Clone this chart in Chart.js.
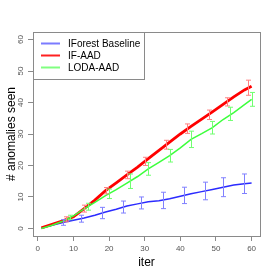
<!DOCTYPE html>
<html>
<head>
<meta charset="utf-8">
<script src="https://cdn.jsdelivr.net/npm/chart.js@4/dist/chart.umd.min.js"></script>
<style>
  html, body { margin: 0; padding: 0; background: #ffffff; }
  #wrap { width: 277px; height: 277px; }
</style>
</head>
<body>
<div id="wrap"><canvas id="c" width="277" height="277"></canvas></div>
<script>
// ---- data ----
const seriesLabels = ['IForest Baseline', 'IF-AAD', 'LODA-AAD'];
const iters = [1,4,7,10,13,16,19,22,25,28,31,34,37,40,43,46,49,52,55,58,60];
const baselineVals = [0.1,1.0,1.9,2.6,3.3,4.2,5.2,6.1,7.1,7.8,8.5,8.8,9.4,10.2,11.0,11.7,12.4,13.1,13.8,14.2,14.4];
const ifAadVals    = [0.2,1.3,2.4,3.7,6.3,9.0,12.0,14.5,17.0,19.5,22.2,24.8,27.4,30.0,32.4,34.7,37.0,39.4,41.8,44.0,45.2];
const lodaAadVals  = [0.0,1.0,2.3,4.0,6.2,8.3,10.4,12.3,14.4,16.5,18.9,21.0,23.1,25.6,28.3,30.1,32.0,34.6,36.8,39.3,41.0];

const baselineErrIter = [7,12,18,24,29,35,41,47,52,58];
const baselineErrMean = [1.9,3.1,4.9,6.8,8.1,8.9,10.5,11.9,13.1,14.2];
const baselineErrSd   = [0.9,1.1,1.8,1.9,1.9,2.6,2.6,2.8,3.0,3.1];

const ifAadErrIter = [8,13,19,25,30,36,42,48,53,59];
const ifAadErrMean = [2.9,6.3,12.0,17.0,21.3,26.6,31.7,36.1,40.2,44.7];
const ifAadErrSd   = [0.8,1.1,1.0,1.2,1.3,1.4,1.5,1.5,1.3,2.4];

const lodaErrIter = [9,14,20,26,31,37,43,49,54,60];
const lodaErrMean = [3.5,6.9,11.0,15.0,18.9,23.1,28.3,32.0,36.4,41.0];
const lodaErrSd   = [0.7,1.1,1.5,2.3,2.0,2.0,2.6,2.0,2.1,2.2];

const xTickVals = [0,10,20,30,40,50,60];
const yTickVals = [0,10,20,30,40,50,60];

// ---- styles ----
const lineColors = ['#2b2bff', '#ff0000', '#3cff3c'];
const barColors  = ['#8080ff', '#ff8080', '#70ff70'];
const legendColors = ['#7b7bff', '#ff2020', '#80ff80'];
const lineWidths = [1.5, 2.8, 1.5];

const vals = [baselineVals, ifAadVals, lodaAadVals];
const errSets = [
  [baselineErrIter, baselineErrMean, baselineErrSd],
  [ifAadErrIter, ifAadErrMean, ifAadErrSd],
  [lodaErrIter, lodaErrMean, lodaErrSd]
];

const datasets = vals.map((v, i) => ({
  label: seriesLabels[i],
  data: iters.map((x, k) => ({ x: x, y: v[k] })),
  borderColor: lineColors[i],
  backgroundColor: lineColors[i],
  borderWidth: lineWidths[i],
  pointRadius: 0,
  tension: 0,
  fill: false,
  order: 3 - i
}));

const errorBarPlugin = {
  id: 'errorBars',
  afterDatasetsDraw(chart) {
    const ctx = chart.ctx;
    const xs = chart.scales.x, ys = chart.scales.y;
    ctx.save();
    errSets.forEach((set, i) => {
      const [it, mean, sd] = set;
      ctx.strokeStyle = barColors[i];
      ctx.lineWidth = 1;
      it.forEach((x, k) => {
        const px = Math.round(xs.getPixelForValue(x)) + 0.5;
        const top = ys.getPixelForValue(mean[k] + sd[k]);
        const bot = ys.getPixelForValue(mean[k] - sd[k]);
        ctx.beginPath();
        ctx.moveTo(px, top); ctx.lineTo(px, bot);
        ctx.moveTo(px - 2.5, top); ctx.lineTo(px + 2.5, top);
        ctx.moveTo(px - 2.5, bot); ctx.lineTo(px + 2.5, bot);
        ctx.stroke();
      });
    });
    ctx.restore();
  }
};

const boxAndLegendPlugin = {
  id: 'boxLegend',
  afterDraw(chart) {
    const ctx = chart.ctx;
    const a = chart.chartArea;
    ctx.save();
    // legend box
    const lx = a.left, ly = a.top, lw = 111, lh = 47;
    ctx.fillStyle = '#ffffff';
    ctx.fillRect(lx, ly, lw, lh);
    ctx.strokeStyle = '#8a8a8a';
    ctx.lineWidth = 1;
    ctx.strokeRect(lx + 0.5, ly + 0.5, lw, lh);
    ctx.font = '10px "Liberation Sans", Arial, sans-serif';
    ctx.textBaseline = 'middle';
    ctx.textAlign = 'left';
    chart.data.datasets.forEach((ds, i) => {
      const yy = ly + 11.5 + i * 12;
      ctx.strokeStyle = legendColors[i];
      ctx.lineWidth = 2;
      ctx.beginPath();
      ctx.moveTo(lx + 8, yy); ctx.lineTo(lx + 27, yy);
      ctx.stroke();
      ctx.fillStyle = '#000000';
      ctx.fillText(ds.label, lx + 35, yy + 0.5);
    });
    // plot box
    ctx.strokeStyle = '#8a8a8a';
    ctx.lineWidth = 1;
    ctx.strokeRect(Math.round(a.left) + 0.5, Math.round(a.top) + 0.5, Math.round(a.right - a.left), Math.round(a.bottom - a.top));
    ctx.restore();
  }
};

new Chart(document.getElementById('c'), {
  type: 'line',
  data: { datasets: datasets },
  options: {
    responsive: false,
    animation: false,
    devicePixelRatio: 1,
    layout: { padding: { top: 32, right: 17, left: 0, bottom: 0 } },
    plugins: { legend: { display: false }, tooltip: { enabled: false } },
    scales: {
      x: {
        type: 'linear',
        min: -1.36, max: 62.36,
        afterBuildTicks: (s) => { s.ticks = xTickVals.map(v => ({ value: v })); },
        afterFit: (s) => { s.height = 41; },
        grid: { drawOnChartArea: false, drawTicks: true, tickLength: 5, color: '#8a8a8a' },
        border: { display: false },
        ticks: { color: '#555555', font: { size: 8, family: '"Liberation Sans", Arial, sans-serif' }, padding: 3, maxRotation: 0, minRotation: 0 },
        title: { display: true, text: 'iter', color: '#000000', font: { size: 12, family: '"Liberation Sans", Arial, sans-serif' }, padding: { top: 0, bottom: 7 } }
      },
      y: {
        type: 'linear',
        min: -2.4, max: 62.4,
        afterBuildTicks: (s) => { s.ticks = yTickVals.map(v => ({ value: v })); },
        afterFit: (s) => { s.width = 33; },
        grid: { drawOnChartArea: false, drawTicks: true, tickLength: 5, color: '#8a8a8a' },
        border: { display: false },
        ticks: { color: '#555555', font: { size: 8, family: '"Liberation Sans", Arial, sans-serif' }, padding: 3, minRotation: 90, maxRotation: 90, crossAlign: 'center' },
        title: { display: true, text: '# anomalies seen', color: '#000000', font: { size: 12, family: '"Liberation Sans", Arial, sans-serif' }, padding: { top: 4, bottom: 0 } }
      }
    }
  },
  plugins: [errorBarPlugin, boxAndLegendPlugin]
});
</script>
</body>
</html>
